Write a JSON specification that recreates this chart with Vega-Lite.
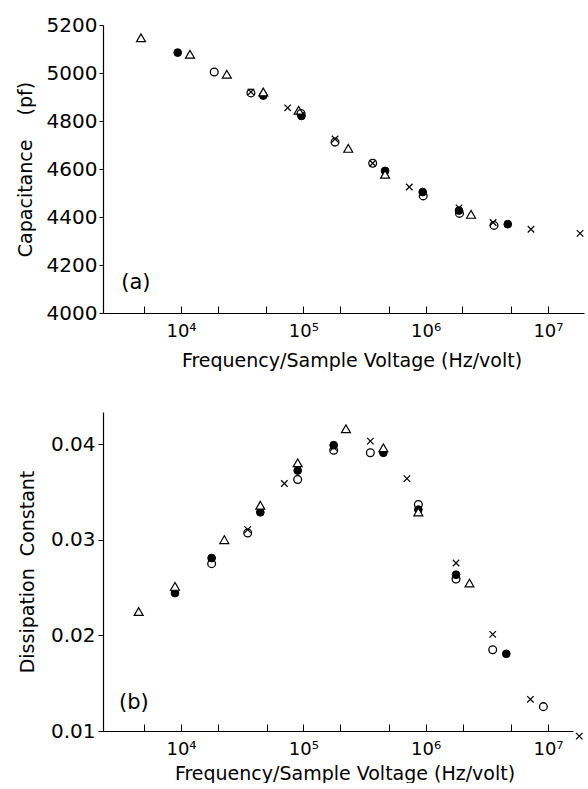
{
  "$schema": "https://vega.github.io/schema/vega-lite/v6.json",
  "background": "white",
  "padding": {"top": 15, "left": 16, "right": 0, "bottom": 0},
  "spacing": 42,
  "config": {
    "view": {"stroke": null},
    "font": "DejaVu Sans",
    "axis": {
      "grid": false,
      "domainColor": "black",
      "domainWidth": 1.2,
      "tickColor": "black",
      "tickWidth": 1,
      "labelColor": "black",
      "titleColor": "black",
      "labelFont": "DejaVu Sans",
      "titleFont": "DejaVu Sans",
      "titleFontWeight": "normal",
      "labelFontSize": 18,
      "titleFontSize": 19,
      "labelOverlap": false,
      "labelFlush": false
    }
  },
  "datasets": {
    "cap": [
      {"s": "F", "f": 9400, "v": 5085},
      {"s": "F", "f": 47100, "v": 4906},
      {"s": "F", "f": 96600, "v": 4821},
      {"s": "F", "f": 466000, "v": 4592},
      {"s": "F", "f": 946000, "v": 4504},
      {"s": "F", "f": 1875000, "v": 4427},
      {"s": "F", "f": 4690000, "v": 4370},
      {"s": "T", "f": 4710, "v": 5147},
      {"s": "T", "f": 11850, "v": 5078},
      {"s": "T", "f": 23700, "v": 4995},
      {"s": "T", "f": 47100, "v": 4921},
      {"s": "T", "f": 91600, "v": 4845},
      {"s": "T", "f": 233000, "v": 4686},
      {"s": "T", "f": 466000, "v": 4578},
      {"s": "T", "f": 2350000, "v": 4411},
      {"s": "O", "f": 18700, "v": 5004},
      {"s": "O", "f": 37300, "v": 4917},
      {"s": "O", "f": 95700, "v": 4831},
      {"s": "O", "f": 181600, "v": 4712},
      {"s": "O", "f": 369000, "v": 4624},
      {"s": "O", "f": 955000, "v": 4488},
      {"s": "O", "f": 1890000, "v": 4415},
      {"s": "O", "f": 3620000, "v": 4365},
      {"s": "X", "f": 37300, "v": 4921},
      {"s": "X", "f": 74500, "v": 4855},
      {"s": "X", "f": 181600, "v": 4725},
      {"s": "X", "f": 369000, "v": 4624},
      {"s": "X", "f": 735000, "v": 4525},
      {"s": "X", "f": 1875000, "v": 4438},
      {"s": "X", "f": 3560000, "v": 4377},
      {"s": "X", "f": 7260000, "v": 4349},
      {"s": "X", "f": 18300000, "v": 4332}
    ],
    "dis": [
      {"s": "F", "f": 8930, "v": 0.02444},
      {"s": "F", "f": 17800, "v": 0.02811},
      {"s": "F", "f": 44500, "v": 0.0329},
      {"s": "F", "f": 89900, "v": 0.03727},
      {"s": "F", "f": 177000, "v": 0.03993},
      {"s": "F", "f": 451000, "v": 0.03913},
      {"s": "F", "f": 871000, "v": 0.03318},
      {"s": "F", "f": 1770000, "v": 0.02636},
      {"s": "F", "f": 4560000, "v": 0.01808},
      {"s": "T", "f": 4510, "v": 0.02251},
      {"s": "T", "f": 8930, "v": 0.02514},
      {"s": "T", "f": 22600, "v": 0.03003},
      {"s": "T", "f": 44500, "v": 0.03364},
      {"s": "T", "f": 89900, "v": 0.03808},
      {"s": "T", "f": 223000, "v": 0.04165},
      {"s": "T", "f": 451000, "v": 0.03965},
      {"s": "T", "f": 871000, "v": 0.03294},
      {"s": "T", "f": 2280000, "v": 0.02549},
      {"s": "O", "f": 17800, "v": 0.02752},
      {"s": "O", "f": 35100, "v": 0.03073},
      {"s": "O", "f": 89900, "v": 0.03633},
      {"s": "O", "f": 177000, "v": 0.0394},
      {"s": "O", "f": 353000, "v": 0.03913},
      {"s": "O", "f": 871000, "v": 0.03371},
      {"s": "O", "f": 1770000, "v": 0.02591},
      {"s": "O", "f": 3530000, "v": 0.0185},
      {"s": "O", "f": 9160000, "v": 0.01255},
      {"s": "X", "f": 35100, "v": 0.03108},
      {"s": "X", "f": 70000, "v": 0.03591},
      {"s": "X", "f": 177000, "v": 0.0397},
      {"s": "X", "f": 353000, "v": 0.04035},
      {"s": "X", "f": 703000, "v": 0.03643},
      {"s": "X", "f": 1770000, "v": 0.02759},
      {"s": "X", "f": 3530000, "v": 0.02011},
      {"s": "X", "f": 7180000, "v": 0.01332},
      {"s": "X", "f": 18000000, "v": 0.00947}
    ],
    "labA": [{"f": 4275, "v": 4125, "t": "(a)"}],
    "labB": [{"f": 4120, "v": 0.0129, "t": "(b)"}]
  },
  "vconcat": [
    {
      "width": 481,
      "height": 288,
      "data": {"name": "cap"},
      "encoding": {
        "x": {
          "field": "f", "type": "quantitative",
          "scale": {"type": "log", "domain": [2304, 19700000], "nice": false},
          "axis": {
            "title": "Frequency/Sample Voltage (Hz/volt)",
            "values": [5000, 10000, 20000, 50000, 100000, 200000, 500000, 1000000, 2000000, 5000000, 10000000, 20000000],
            "labelExpr": "datum.value == 10000 ? '10⁴' : datum.value == 100000 ? '10⁵' : datum.value == 1000000 ? '10⁶' : datum.value == 10000000 ? '10⁷' : ''",
            "tickSize": -7,
            "labelPadding": 16,
            "titlePadding": 11,
            "titleX": 248.5,
            "titleAlign": "center"
          }
        },
        "y": {
          "field": "v", "type": "quantitative",
          "scale": {"domain": [4000, 5200], "nice": false, "zero": false},
          "axis": {
            "title": "Capacitance\u00a0\u00a0\u00a0\u00a0(pf)",
            "values": [4000, 4200, 4400, 4600, 4800, 5000, 5200],
            "format": "d",
            "labelFontSize": 20,
            "tickSize": 4,
            "labelPadding": 2,
            "titlePadding": 11
          }
        }
      },
      "layer": [
        {"transform": [{"filter": "datum.s == 'F'"}], "mark": {"type": "point", "shape": "circle", "filled": true, "fill": "black", "stroke": "black", "strokeWidth": 1, "size": 60, "opacity": 1}},
        {"transform": [{"filter": "datum.s == 'T'"}], "mark": {"type": "point", "shape": "triangle-up", "filled": true, "fill": "white", "stroke": "black", "strokeWidth": 1.2, "size": 80, "opacity": 1}},
        {"transform": [{"filter": "datum.s == 'O'"}], "mark": {"type": "point", "shape": "circle", "filled": false, "stroke": "black", "strokeWidth": 1.3, "size": 60, "opacity": 1}},
        {"transform": [{"filter": "datum.s == 'X'"}], "mark": {"type": "point", "shape": "M-1,-1L1,1M-1,1L1,-1", "filled": false, "stroke": "black", "strokeWidth": 1.2, "size": 42, "opacity": 1}},
        {"data": {"name": "labA"}, "mark": {"type": "text", "fontSize": 21, "font": "DejaVu Sans", "color": "black"}, "encoding": {"text": {"field": "t"}}}
      ]
    },
    {
      "width": 470,
      "height": 319,
      "data": {"name": "dis"},
      "encoding": {
        "x": {
          "field": "f", "type": "quantitative",
          "scale": {"type": "log", "domain": [2304, 16000000], "nice": false},
          "axis": {
            "title": "Frequency/Sample Voltage (Hz/volt)",
            "values": [5000, 10000, 20000, 50000, 100000, 200000, 500000, 1000000, 2000000, 5000000, 10000000],
            "labelExpr": "datum.value == 10000 ? '10⁴' : datum.value == 100000 ? '10⁵' : datum.value == 1000000 ? '10⁶' : datum.value == 10000000 ? '10⁷' : ''",
            "tickSize": -7,
            "labelPadding": 16,
            "titlePadding": 6,
            "titleX": 241.5,
            "titleAlign": "center"
          }
        },
        "y": {
          "field": "v", "type": "quantitative",
          "scale": {"domain": [0.01, 0.0434], "nice": false, "zero": false},
          "axis": {
            "title": "Dissipation\u00a0\u00a0Constant",
            "values": [0.01, 0.02, 0.03, 0.04],
            "format": ".2f",
            "labelFontSize": 20,
            "tickSize": 5,
            "labelPadding": 3,
            "titlePadding": 13
          }
        }
      },
      "layer": [
        {"transform": [{"filter": "datum.s == 'F'"}], "mark": {"type": "point", "shape": "circle", "filled": true, "fill": "black", "stroke": "black", "strokeWidth": 1, "size": 60, "opacity": 1}},
        {"transform": [{"filter": "datum.s == 'T'"}], "mark": {"type": "point", "shape": "triangle-up", "filled": true, "fill": "white", "stroke": "black", "strokeWidth": 1.2, "size": 80, "opacity": 1}},
        {"transform": [{"filter": "datum.s == 'O'"}], "mark": {"type": "point", "shape": "circle", "filled": false, "stroke": "black", "strokeWidth": 1.3, "size": 60, "opacity": 1}},
        {"transform": [{"filter": "datum.s == 'X'"}], "mark": {"type": "point", "shape": "M-1,-1L1,1M-1,1L1,-1", "filled": false, "stroke": "black", "strokeWidth": 1.2, "size": 42, "opacity": 1}},
        {"data": {"name": "labB"}, "mark": {"type": "text", "fontSize": 21, "font": "DejaVu Sans", "color": "black"}, "encoding": {"text": {"field": "t"}}}
      ]
    }
  ]
}
